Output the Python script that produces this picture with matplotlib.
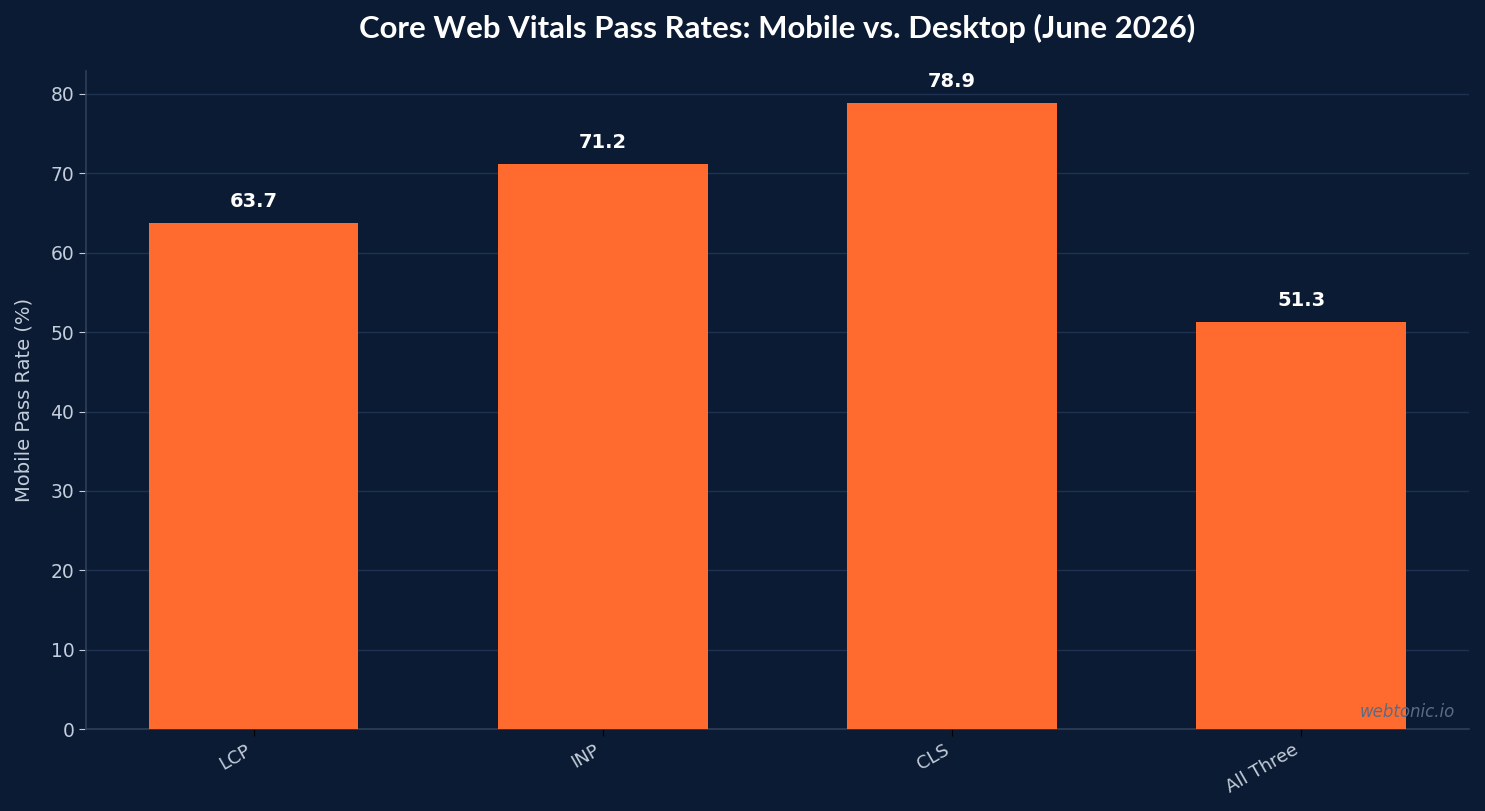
import matplotlib.pyplot as plt
import numpy as np

# Core Web Vitals mobile pass rates, June 2026
metrics = ['LCP', 'INP', 'CLS', 'All Three']
mobile_pass = [63.7, 71.2, 78.9, 51.3]

BG = '#0b1b33'
BAR = '#ff6b2f'
TEXT = '#c3cddb'
GRID = '#1e3150'
SPINE = '#2e3f55'

fig, ax = plt.subplots(figsize=(14.85, 8.11), dpi=100)
fig.patch.set_facecolor(BG)
ax.set_facecolor(BG)

x = np.arange(len(metrics))
bars = ax.bar(x, mobile_pass, width=0.6, color=BAR, zorder=3)

for b, v in zip(bars, mobile_pass):
    ax.text(b.get_x() + b.get_width() / 2, v + 1.5, f'{v:.1f}',
            ha='center', va='bottom', color='white', fontsize=14, fontweight='bold')

ax.set_ylim(0, max(mobile_pass) * 1.05)
ax.set_xticks(x)
ax.set_xticklabels(metrics, rotation=30, ha='right', color=TEXT, fontsize=13)
ax.tick_params(axis='x', colors='black', labelcolor=TEXT, length=5)
ax.tick_params(axis='y', colors=TEXT, labelsize=13.5, length=5)
ax.set_ylabel('Mobile Pass Rate (%)', color=TEXT, fontsize=14, labelpad=12)

ax.grid(True, axis='y', color=GRID, linewidth=1, zorder=0)
for s in ['top', 'right']:
    ax.spines[s].set_visible(False)
for s in ['left', 'bottom']:
    ax.spines[s].set_color(SPINE)
    ax.spines[s].set_linewidth(1.2)

ax.set_title('Core Web Vitals Pass Rates: Mobile vs. Desktop (June 2026)',
             fontfamily='Lato', fontweight='bold', fontsize=22.4, color='white', pad=24)

ax.text(0.99, 0.012, 'webtonic.io', transform=ax.transAxes, ha='right', va='bottom',
        fontsize=12, style='italic', color='#5b6c82', zorder=4)

plt.subplots_adjust(left=0.058, right=0.989, top=0.912, bottom=0.101)
plt.savefig('out.png', dpi=100, facecolor=BG)
